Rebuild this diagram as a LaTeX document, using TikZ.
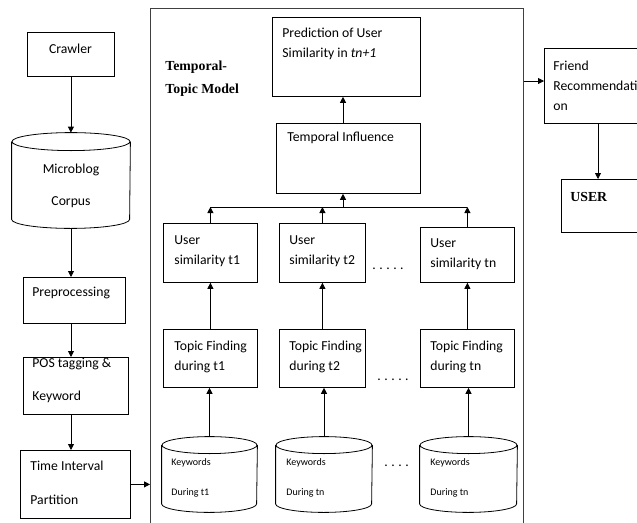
\documentclass[tikz,border=0pt]{standalone}
\usepackage{fontspec}
\setmainfont{Carlito}
\newfontfamily\headfont{Liberation Serif}
\usetikzlibrary{calc,arrows.meta}

\tikzset{
    blk/.style 2 args={draw, inner sep=0pt, anchor=north west,
        minimum width=#1, minimum height=#2},
    drum/.style 2 args={inner sep=0pt, minimum width=#1, minimum height=#2},
    txt/.style={anchor=west, inner sep=0pt, align=left,
        font=\fontsize{13.7}{20}\selectfont},
    small/.style={anchor=west, inner sep=0pt, align=left,
        font=\fontsize{10}{12}\selectfont},
    head/.style={anchor=west, inner sep=0pt, align=left,
        font=\fontsize{13.8}{23}\selectfont\headfont\bfseries},
    flow/.style={-{Triangle[length=6pt,width=6pt]}},
}

\begin{document}
\begin{tikzpicture}[x=1pt, y=-1pt, line width=0.8pt]

    \useasboundingbox (0,0) rectangle (637,522);
    \clip (0,0) rectangle (637,522);

    % left column
    \node[blk={87pt}{44pt}] (crawler) at (27,32) {};
    \node[drum={118pt}{95pt}] (corpus) at (71,180.5) {};
    \node[blk={102pt}{46pt}] (prep) at (23,277) {};
    \node[blk={105pt}{57pt}] (pos) at (23,357) {};
    \node[blk={110pt}{68pt}] (interval) at (20,450) {};

    \node[txt, anchor=center] (crawler-t) at (70.5,49) {Crawler};
    \node[txt, anchor=center, align=center] (corpus-t) at (71,186) {Microblog\\[12pt]Corpus};
    \node[txt] (prep-t) at (32,293) {Preprocessing};
    \node[txt] (pos-t) at (32,380.5) {POS tagging \&\\[13pt]Keyword};
    \node[txt] (interval-t) at (30,483) {Time Interval\\[14pt]Partition};

    % temporal-topic model
    \node[blk={373pt}{530pt}, draw=black!75] (model) at (150,8) {};
    \node[head] (model-t) at (165,78.5) {Temporal-\\Topic Model};

    \node[blk={148pt}{79pt}] (predict) at (272,17) {};
    \node[blk={144pt}{70pt}] (influence) at (276,123) {};
    \node[txt] (predict-t) at (282,44) {Prediction of User\\Similarity in \textit{tn+1}};
    \node[txt] (influence-t) at (287,138) {Temporal Influence};

    \node[blk={94pt}{59pt}] (sim1) at (163,223) {};
    \node[blk={86pt}{59pt}] (sim2) at (279,223) {};
    \node[blk={94pt}{55pt}] (simn) at (420,227) {};
    \node[txt] (sim1-t) at (174,251.5) {User\\similarity t1};
    \node[txt] (sim2-t) at (289,251.5) {User\\similarity t2};
    \node[txt] (simn-t) at (430,254.5) {User\\similarity tn};
    \node[txt] (simdots) at (372,269) {.\hspace{3.5pt}.\hspace{3.5pt}.\hspace{3.5pt}.\hspace{3.5pt}.};

    \node[blk={94pt}{58pt}] (topic1) at (163,329) {};
    \node[blk={86pt}{58pt}] (topic2) at (279,329) {};
    \node[blk={94pt}{58pt}] (topicn) at (420,329) {};
    \node[txt] (topic1-t) at (174,357) {Topic Finding\\during t1};
    \node[txt] (topic2-t) at (289,357) {Topic Finding\\during t2};
    \node[txt] (topicn-t) at (430,357) {Topic Finding\\during tn};
    \node[txt] (topicdots) at (377,380) {.\hspace{3.5pt}.\hspace{3.5pt}.\hspace{3.5pt}.\hspace{3.5pt}.};

    \node[drum={95pt}{75pt}] (kw1) at (209.5,474.5) {};
    \node[drum={96pt}{75pt}] (kw2) at (324,474.5) {};
    \node[drum={97pt}{75pt}] (kwn) at (468.5,474.5) {};
    \node[small] (kw1-t) at (171,478) {Keywords\\[18pt]During t1};
    \node[small] (kw2-t) at (286,478) {Keywords\\[18pt]During tn};
    \node[small] (kwn-t) at (430,478) {Keywords\\[18pt]During tn};
    \node[txt] (kwdots) at (384,466) {.\hspace{3.5pt}.\hspace{3.5pt}.\hspace{3.5pt}.};

    % cylinder outlines
    \foreach \c/\r/\w in {corpus/9/59, kw1/8.5/47.5, kw2/8.5/48, kwn/8.5/48.5} {
        \draw ($(\c.north)+(0,\r)$) ellipse [x radius=\w, y radius=\r]
            ($(\c.north west)+(0,\r)$) -- ($(\c.south west)+(0,-\r)$)
            arc [start angle=180, end angle=0, x radius=\w, y radius=\r]
            -- ($(\c.north east)+(0,\r)$);
    }

    % right column
    \node[blk={100pt}{75pt}] (friend) at (544,48) {};
    \node[blk={85pt}{53pt}] (user) at (561,179) {};
    \node[txt] (friend-t) at (553,86) {Friend\\Recommendati\\on};
    \node[head] (user-t) at (570,197) {USER};

    \coordinate (bus) at (343,207);

    % connectors
    \draw[flow] (crawler.south) -- (crawler.south |- corpus.north);
    \draw[flow] (corpus.south) -- (corpus.south |- prep.north);
    \draw[flow] (corpus.south |- prep.south) -- (corpus.south |- pos.north);
    \draw[flow] (corpus.south |- pos.south) -- (corpus.south |- interval.north);
    \draw[flow] (interval.east) -- (interval.east -| model.west);

    \draw[flow] (kw1.north) -- (kw1.north |- topic1.south);
    \draw[flow] (kw2.north) -- (kw2.north |- topic2.south);
    \draw[flow] (kwn.north) -- (kwn.north |- topicn.south);
    \draw[flow] (topic1.north) -- (sim1.south);
    \draw[flow] (topic2.north) -- (sim2.south);
    \draw[flow] (topicn.north) -- (simn.south);
    \draw[flow] (sim1.north) -- (sim1.north |- bus);
    \draw[flow] (sim2.north) -- (sim2.north |- bus);
    \draw[flow] (simn.north) -- (simn.north |- bus);
    \draw (sim1.north |- bus) -- (simn.north |- bus);
    \draw[flow] (bus) -- (bus |- influence.south);
    \draw[flow] (influence.north -| bus) -- (bus |- predict.south);

    \draw[flow] (model.east |- 0,81) -- (friend.west |- 0,81);
    \draw[flow] (friend.south -| 598,0) -- (598,0 |- user.north);

\end{tikzpicture}
\end{document}
